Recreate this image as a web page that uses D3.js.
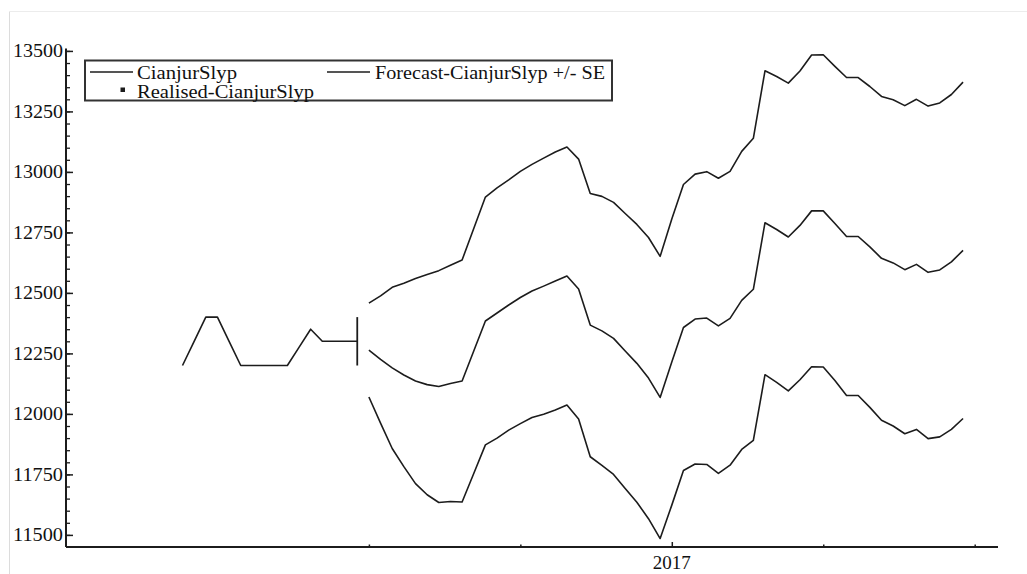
<!DOCTYPE html>
<html>
<head>
<meta charset="utf-8">
<script src="https://cdn.jsdelivr.net/npm/d3@7"></script>
<style>
  html, body { margin: 0; padding: 0; background: #fff; }
  svg { display: block; }
  text { font-family: "Liberation Serif", "DejaVu Serif", "Times New Roman", Times, serif; fill: #111; }
</style>
</head>
<body>
<svg id="chart" width="1027" height="574"></svg>
<script>
// Weekly observations, counted in weeks from the first week of 2016 (week 52 = first week of 2017).
const realisedWeeks = d3.range(10, 26);
const realisedValues = [12200, 12300, 12400, 12400, 12300, 12200, 12200, 12200,
                        12200, 12200, 12275, 12350, 12300, 12300, 12300, 12300];

const forecastWeeks = d3.range(26, 78);
const forecastValues = [
  12264, 12225, 12190, 12161, 12136, 12121, 12113, 12126, 12136, 12260,
  12384, 12417, 12450, 12481, 12508, 12528, 12549, 12570, 12516, 12367,
  12343, 12312, 12260, 12209, 12148, 12068, 12214, 12357, 12392, 12396,
  12364, 12395, 12469, 12515, 12790, 12762, 12731, 12779, 12839, 12839,
  12787, 12733, 12733, 12690, 12643, 12624, 12596, 12618, 12585, 12595,
  12628, 12676
];
const forecastSE = [
  194, 263, 333, 379, 424, 455, 479, 488, 500, 506,
  512, 517, 517, 521, 523, 529, 533, 533, 537, 544,
  556, 562, 568, 574, 581, 583, 591, 591, 599, 605,
  610, 607, 616, 624, 628, 632, 636, 638, 644, 645,
  649, 657, 657, 663, 669, 674, 678, 682, 687, 690,
  692, 695
];

// Error bar drawn at the forecast origin.
const originBar = [12200, 12400];

const yMajorTicks = d3.range(11500, 13501, 250);
const yMinorTicks = d3.range(11500, 13501, 50);
const xTickWeeks = [26, 39, 52, 65, 78];
const xLabelTicks = [{ week: 52, label: "2017" }];

const legendLabels = ["CianjurSlyp", "Forecast-CianjurSlyp +/- SE", "Realised-CianjurSlyp"];

const svg = d3.select("#chart");
const ink = "#1c1c1c";

const x = d3.scaleLinear().domain([0, 80]).range([66, 998]);
const y = d3.scaleLinear().domain([11450, 13510]).range([547, 48.5]);

// Faint outer frame of the graph area.
svg.append("line").attr("x1", 9.5).attr("x2", 9.5).attr("y1", 12).attr("y2", 574)
  .attr("stroke", "#dcdcdc").attr("stroke-width", 1);
svg.append("line").attr("x1", 9).attr("x2", 1027).attr("y1", 11.5).attr("y2", 11.5)
  .attr("stroke", "#ececec").attr("stroke-width", 1);

// Y axis: inward ticks, minor every 50, labelled every 250.
const yAxisMinor = d3.axisRight(y).tickValues(yMinorTicks).tickSize(4).tickFormat("");
const yAxisMajor = d3.axisRight(y).tickValues(yMajorTicks).tickSize(7).tickFormat("");
svg.append("g").attr("transform", `translate(${x(0)},0)`).call(yAxisMinor)
  .call(g => g.select(".domain").remove())
  .call(g => g.selectAll("line").attr("stroke", ink).attr("stroke-width", 1.3));
svg.append("g").attr("transform", `translate(${x(0)},0)`).call(yAxisMajor)
  .call(g => g.select(".domain").remove())
  .call(g => g.selectAll("line").attr("stroke", ink).attr("stroke-width", 1.5));
svg.append("line")
  .attr("x1", x(0)).attr("x2", x(0)).attr("y1", y.range()[0]).attr("y2", y.range()[1])
  .attr("stroke", ink).attr("stroke-width", 2);
svg.append("g").selectAll("text").data(yMajorTicks).join("text")
  .attr("x", x(0) - 3).attr("y", d => y(d)).attr("dy", "0.34em")
  .attr("text-anchor", "end").attr("font-size", 19)
  .attr("textLength", 50).attr("lengthAdjust", "spacingAndGlyphs").text(d => d);

// X axis: small upward quarterly ticks, the year tick a little longer.
const xAxis = d3.axisTop(x).tickValues(xTickWeeks).tickSizeOuter(0).tickFormat("");
svg.append("g").attr("transform", `translate(0,${y.range()[0]})`).call(xAxis)
  .call(g => g.select(".domain").remove())
  .call(g => g.selectAll(".tick line")
    .attr("y2", d => xLabelTicks.some(t => t.week === d) ? -5 : -2.5)
    .attr("stroke", ink).attr("stroke-width", 1.5));
svg.append("line")
  .attr("x1", x(0)).attr("x2", x(80)).attr("y1", y.range()[0]).attr("y2", y.range()[0])
  .attr("stroke", ink).attr("stroke-width", 2);
svg.append("g").selectAll("text").data(xLabelTicks).join("text")
  .attr("x", d => x(d.week)).attr("y", 569)
  .attr("text-anchor", "middle").attr("font-size", 19).text(d => d.label);

// Series.
const line = d3.line().x(d => x(d[0])).y(d => y(d[1]));
const drawLine = pts => svg.append("path").attr("d", line(pts))
  .attr("fill", "none").attr("stroke", ink).attr("stroke-width", 1.6)
  .attr("stroke-linejoin", "round");

drawLine(realisedWeeks.map((w, i) => [w, realisedValues[i]]));
drawLine(forecastWeeks.map((w, i) => [w, forecastValues[i]]));
drawLine(forecastWeeks.map((w, i) => [w, forecastValues[i] + forecastSE[i]]));
drawLine(forecastWeeks.map((w, i) => [w, forecastValues[i] - forecastSE[i]]));

const lastWeek = realisedWeeks[realisedWeeks.length - 1];
svg.append("line")
  .attr("x1", x(lastWeek)).attr("x2", x(lastWeek))
  .attr("y1", y(originBar[0])).attr("y2", y(originBar[1]))
  .attr("stroke", ink).attr("stroke-width", 1.8);

// Legend.
const legend = svg.append("g");
legend.append("rect").attr("x", 85).attr("y", 60.5).attr("width", 527).attr("height", 40)
  .attr("fill", "#fff").attr("stroke", "#333").attr("stroke-width", 2);
legend.append("line").attr("x1", 90).attr("x2", 133).attr("y1", 72).attr("y2", 72)
  .attr("stroke", ink).attr("stroke-width", 1.6);
legend.append("text").attr("x", 137).attr("y", 78.5).attr("font-size", 18)
  .attr("textLength", 100).attr("lengthAdjust", "spacingAndGlyphs").text(legendLabels[0]);
legend.append("line").attr("x1", 327).attr("x2", 370).attr("y1", 72).attr("y2", 72)
  .attr("stroke", ink).attr("stroke-width", 1.6);
legend.append("text").attr("x", 375).attr("y", 78.5).attr("font-size", 18)
  .attr("textLength", 230).attr("lengthAdjust", "spacingAndGlyphs").text(legendLabels[1]);
legend.append("rect").attr("x", 120.5).attr("y", 87.5).attr("width", 4.5).attr("height", 4.5)
  .attr("fill", ink);
legend.append("text").attr("x", 137).attr("y", 97.5).attr("font-size", 18)
  .attr("textLength", 177).attr("lengthAdjust", "spacingAndGlyphs").text(legendLabels[2]);
</script>
</body>
</html>
